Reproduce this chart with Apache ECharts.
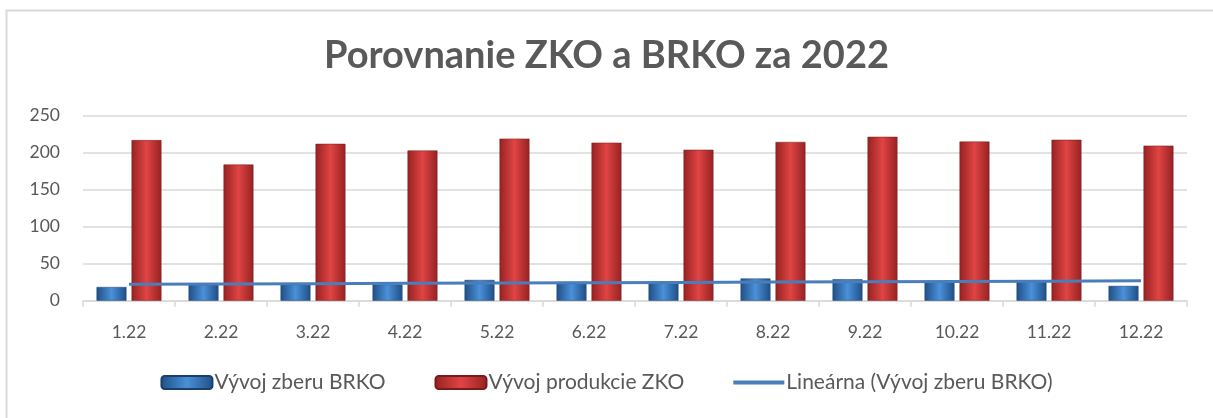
<!DOCTYPE html>
<html>
<head>
<meta charset="utf-8">
<title>Porovnanie ZKO a BRKO za 2022</title>
<script src="https://cdn.jsdelivr.net/npm/echarts@6/dist/echarts.min.js"></script>
<style>
  html, body { margin: 0; padding: 0; background: #fff; }
  #chart { width: 1213px; height: 418px; }
</style>
</head>
<body>
<div id="chart"></div>
<script>
// data
var months = ['1.22', '2.22', '3.22', '4.22', '5.22', '6.22', '7.22', '8.22', '9.22', '10.22', '11.22', '12.22'];
var brko = [18.5, 22, 22, 22, 28, 25.5, 25.5, 30, 29, 26, 26, 20];        // Vývoj zberu BRKO
var zko = [217, 184, 212, 203, 219, 213.5, 204, 214.5, 221.5, 215, 217.5, 209.5]; // Vývoj produkcie ZKO
var yTicks = { min: 0, max: 250, step: 50 };

// linear trend of BRKO (least squares, like excel's "Lineárna")
function linTrend(vals) {
  var n = vals.length, sx = 0, sy = 0, sxy = 0, sxx = 0;
  for (var i = 0; i < n; i++) {
    var x = i + 1;
    sx += x; sy += vals[i]; sxy += x * vals[i]; sxx += x * x;
  }
  var b = (n * sxy - sx * sy) / (n * sxx - sx * sx);
  var a = (sy - b * sx) / n;
  return vals.map(function (v, i) { return +(a + b * (i + 1)).toFixed(2); });
}
var trend = linTrend(brko);

var textCol = '#595959';
var font = 'Lato, "Open Sans", sans-serif';

var blueFill = new echarts.graphic.LinearGradient(0, 0, 1, 0, [
  { offset: 0, color: '#1f4f86' },
  { offset: 0.5, color: '#4a90d9' },
  { offset: 1, color: '#1f4f86' }
]);
var redFill = new echarts.graphic.LinearGradient(0, 0, 1, 0, [
  { offset: 0, color: '#962222' },
  { offset: 0.5, color: '#e04444' },
  { offset: 1, color: '#962222' }
]);

var chart = echarts.init(document.getElementById('chart'));
chart.setOption({
  animation: false,
  backgroundColor: '#fff',
  graphic: [{
    type: 'rect',
    shape: { x: 6.5, y: 10.5, width: 1300, height: 500 },
    style: { fill: 'none', stroke: '#d9d9d9', lineWidth: 2 },
    silent: true
  }],
  title: {
    text: 'Porovnanie ZKO a BRKO za 2022',
    left: 'center',
    top: 32,
    textStyle: { fontFamily: font, fontSize: 38, fontWeight: 'bold', color: textCol }
  },
  grid: { left: 83, right: 26, top: 115.7, bottom: 117.3 },
  legend: {
    bottom: 20,
    left: 'center',
    itemWidth: 51,
    itemHeight: 13,
    itemGap: 49,
    textStyle: { fontFamily: font, fontSize: 21, color: textCol, padding: [0, 0, 0, -3] },
    data: [
      { name: 'Vývoj zberu BRKO', itemStyle: { color: blueFill } },
      { name: 'Vývoj produkcie ZKO', itemStyle: { color: redFill } },
      { name: 'Lineárna (Vývoj zberu BRKO)', icon: 'path://M0,0L50,0L50,4L0,4Z', itemStyle: { color: '#4a7ebb' } }
    ]
  },
  xAxis: {
    type: 'category',
    data: months,
    boundaryGap: true,
    axisLine: { lineStyle: { color: '#d9d9d9', width: 1.5 } },
    axisTick: { show: true, length: 6, lineStyle: { color: '#d9d9d9', width: 1.5 } },
    axisLabel: { fontFamily: font, fontSize: 17.5, color: textCol, margin: 23 }
  },
  yAxis: {
    type: 'value',
    min: yTicks.min,
    max: yTicks.max,
    interval: yTicks.step,
    axisLine: { show: false },
    axisTick: { show: false },
    splitLine: { lineStyle: { color: '#d9d9d9', width: 1.5 } },
    axisLabel: { fontFamily: font, fontSize: 17.5, color: textCol, margin: 23 }
  },
  series: [
    {
      name: 'Vývoj zberu BRKO',
      type: 'bar',
      data: brko,
      barWidth: '32.5%',
      barGap: '17%',
      itemStyle: { color: blueFill, borderColor: '#1a3f6b', borderWidth: 0.5 }
    },
    {
      name: 'Vývoj produkcie ZKO',
      type: 'bar',
      data: zko,
      barWidth: '32.5%',
      itemStyle: { color: redFill, borderColor: '#7a1a1a', borderWidth: 0.5 }
    },
    {
      name: 'Lineárna (Vývoj zberu BRKO)',
      type: 'line',
      data: trend,
      symbol: 'none',
      z: 5,
      lineStyle: { color: '#4a7ebb', width: 3 },
      itemStyle: { color: '#4a7ebb' }
    }
  ]
});
</script>
</body>
</html>
